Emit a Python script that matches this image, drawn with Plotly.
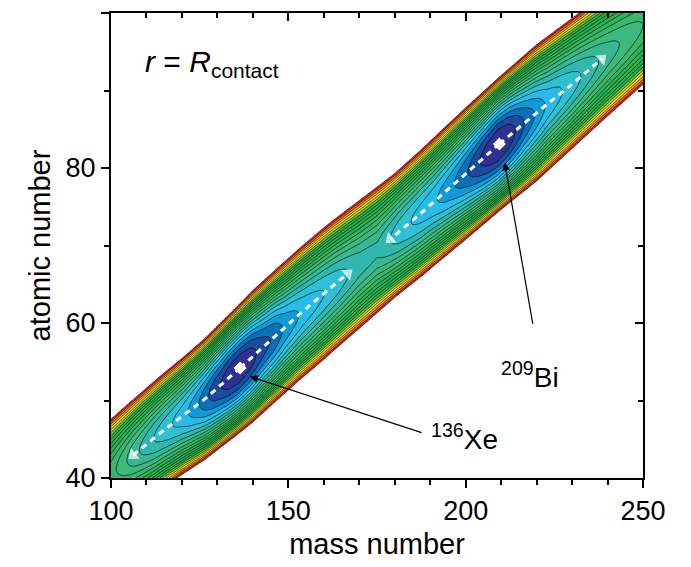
import numpy as np
import plotly.graph_objects as go

# ---------------- data ----------------
# valley line (minimum of the potential in Z for each mass number A)
valley_A = [100, 106.2, 115, 126.5, 136.4, 145, 153.3, 162.6, 172, 178.7, 187, 195.6, 209.5, 221, 238.4, 250]
valley_Z = [40.6, 42.95, 46.2, 50.2, 54.2, 57.8, 61.2, 64.8, 68.3, 70.8, 74.0, 77.5, 83.1, 87.5, 94.1, 98.4]

# depth of the valley bottom along A (in contour-level units)
depth_A = [100, 106, 112, 120, 124, 127, 129, 131, 133, 136, 139, 141, 143, 146, 149, 154, 164, 170, 175,
           181, 186, 191, 196, 200, 202, 204, 206.5, 209, 212, 214, 217, 220, 223, 230, 240, 250]
depth_V = [8.5, 6.5, 5.0, 3.5, 2.3, 1.2, 0.5, 0.0, -0.6, -1.0, -0.6, 0.0, 0.6, 1.2, 2.2, 3.2, 4.5, 5.5, 5.8,
           4.5, 3.8, 3.2, 2.2, 1.2, 0.6, 0.0, -0.7, -1.2, -0.7, 0.0, 1.2, 2.2, 3.2, 4.5, 6.5, 8.0]

# half width (in Z) of the coloured band along A
width_A = [100, 120, 140, 160, 180, 200, 220, 240, 250]
width_Z = [7.0, 7.5, 8.5, 8.5, 8.0, 8.5, 8.8, 8.0, 7.6]

edge_level = 20          # last contour level (white beyond)
wall_power = 2.0         # shape of the valley walls

# dashed minimum-energy paths
xe_down_A = [136.4, 126.5, 115.0, 106.2]
xe_down_Z = [54.2, 50.2, 46.2, 42.95]
xe_up_A = [136.4, 145.0, 153.3, 162.6, 166.8]
xe_up_Z = [54.2, 57.8, 61.2, 64.8, 66.4]
bi_down_A = [209.5, 195.6, 187.0, 178.7]
bi_down_Z = [83.1, 77.5, 74.0, 70.8]
bi_up_A = [209.5, 221.0, 230.0, 238.4]
bi_up_Z = [83.1, 87.5, 90.8, 94.1]

x_ticks = [100, 150, 200, 250]
y_ticks = [40, 60, 80, 100]

# ---------------- build the surface ----------------
A = np.arange(100, 250.01, 0.5)
Z = np.arange(40, 100.01, 0.2)
AA, ZZ = np.meshgrid(A, Z)
zc = np.interp(AA, valley_A, valley_Z)
vm = np.interp(AA, depth_A, depth_V)
hw = np.interp(AA, width_A, width_Z)
u = np.abs(ZZ - zc) / hw
V = vm + (edge_level - vm) * u ** wall_power
V = np.minimum(V, edge_level + 1.5)

band_colors = ['#2E3192', '#1B4B9E', '#0B6FB9', '#0F9BD8', '#27BBEA', '#2FC0D3',
               '#30B8AE', '#38B793', '#3DB97C', '#3BB66A', '#33B45C', '#2BB152',
               '#27B04D', '#27B04D', '#2FB14A', '#6ABC43', '#BCD631', '#F3E31B',
               '#F9A61B', '#F26522', '#DD2127', '#FFFFFF']
nb = len(band_colors) - 1
cscale = []
for b, c in enumerate(band_colors):
    lo = max(0.0, (b - 0.5) / nb)
    hi = min(1.0, (b + 0.5) / nb)
    cscale.append([lo, c])
    cscale.append([hi, c])

fig = go.Figure()
fig.add_trace(go.Contour(
    x=A, y=Z, z=V,
    colorscale=cscale, showscale=False,
    contours=dict(start=0, end=edge_level, size=1, coloring='fill'),
    line=dict(color='black', width=0.6),
    hoverinfo='skip'))

def path(xs, ys):
    n = len(xs)
    fig.add_trace(go.Scatter(
        x=xs, y=ys, mode='lines+markers',
        line=dict(color='white', width=3, dash='6px,5px'),
        marker=dict(symbol='triangle-up', size=[0] * (n - 1) + [12], color='white',
                    angleref='previous', line=dict(width=0)),
        hoverinfo='skip', showlegend=False))

path(xe_down_A, xe_down_Z)
path(xe_up_A, xe_up_Z)
path(bi_down_A, bi_down_Z)
path(bi_up_A, bi_up_Z)

fig.add_trace(go.Scatter(x=[xe_down_A[0], bi_down_A[0]], y=[xe_down_Z[0], bi_down_Z[0]],
                         mode='markers', marker=dict(symbol='diamond', size=10, color='white'),
                         hoverinfo='skip', showlegend=False))

# invisible trace for mirrored (inside-tick) axes
fig.add_trace(go.Scatter(x=[100], y=[40], xaxis='x2', yaxis='y2', mode='markers',
                         marker=dict(opacity=0), hoverinfo='skip', showlegend=False))

font_family = 'Liberation Sans, Arial, sans-serif'

fig.add_annotation(x=139.2, y=53.1, ax=188.0, ay=45.8, axref='x', ayref='y',
                   text='', showarrow=True, arrowhead=2, arrowsize=1.3, arrowwidth=1.2,
                   arrowcolor='black')
fig.add_annotation(x=211.0, y=80.7, ax=219.0, ay=59.7, axref='x', ayref='y',
                   text='', showarrow=True, arrowhead=2, arrowsize=1.3, arrowwidth=1.2,
                   arrowcolor='black')
fig.add_annotation(x=199.8, y=45.3, text='<sup>136</sup>Xe', showarrow=False,
                   font=dict(family=font_family, size=28, color='black'))
fig.add_annotation(x=218.1, y=53.3, text='<sup>209</sup>Bi', showarrow=False,
                   font=dict(family=font_family, size=28, color='black'))
fig.add_annotation(x=0.06, y=0.935, xref='paper', yref='paper', xanchor='left',
                   text='<i>r</i> = <i>R</i><sub>contact</sub>', showarrow=False,
                   font=dict(family=font_family, size=30, color='black'))

axis_common = dict(showline=True, linecolor='black', linewidth=2, showgrid=False,
                   zeroline=False, tickcolor='black', tickwidth=1.5)
fig.update_layout(
    width=691, height=567,
    margin=dict(l=111, r=48, t=13, b=87),
    paper_bgcolor='white', plot_bgcolor='white',
    font=dict(family=font_family, color='black'),
    showlegend=False,
    xaxis=dict(range=[100, 250], tickvals=x_ticks, ticks='outside', ticklen=8,
               tickfont=dict(size=27), title=dict(text='mass number', font=dict(size=29), standoff=8),
               minor=dict(dtick=10, ticks='outside', ticklen=5, tickcolor='black', tickwidth=1.5),
               **axis_common),
    yaxis=dict(range=[40, 100], tickvals=y_ticks, ticks='outside', ticklen=8,
               tickfont=dict(size=27), title=dict(text='atomic number', font=dict(size=29), standoff=6),
               minor=dict(dtick=10, ticks='outside', ticklen=5, tickcolor='black', tickwidth=1.5),
               **axis_common),
    xaxis2=dict(range=[100, 250], overlaying='x', side='top', anchor='y2', tickvals=x_ticks,
                ticks='inside', ticklen=8, showticklabels=False,
                minor=dict(dtick=10, ticks='inside', ticklen=5, tickcolor='black', tickwidth=1.5),
                **axis_common),
    yaxis2=dict(range=[40, 100], overlaying='y', side='right', anchor='x2', tickvals=y_ticks,
                ticks='inside', ticklen=8, showticklabels=False,
                minor=dict(dtick=10, ticks='inside', ticklen=5, tickcolor='black', tickwidth=1.5),
                **axis_common),
)

fig.write_html('out.html')
